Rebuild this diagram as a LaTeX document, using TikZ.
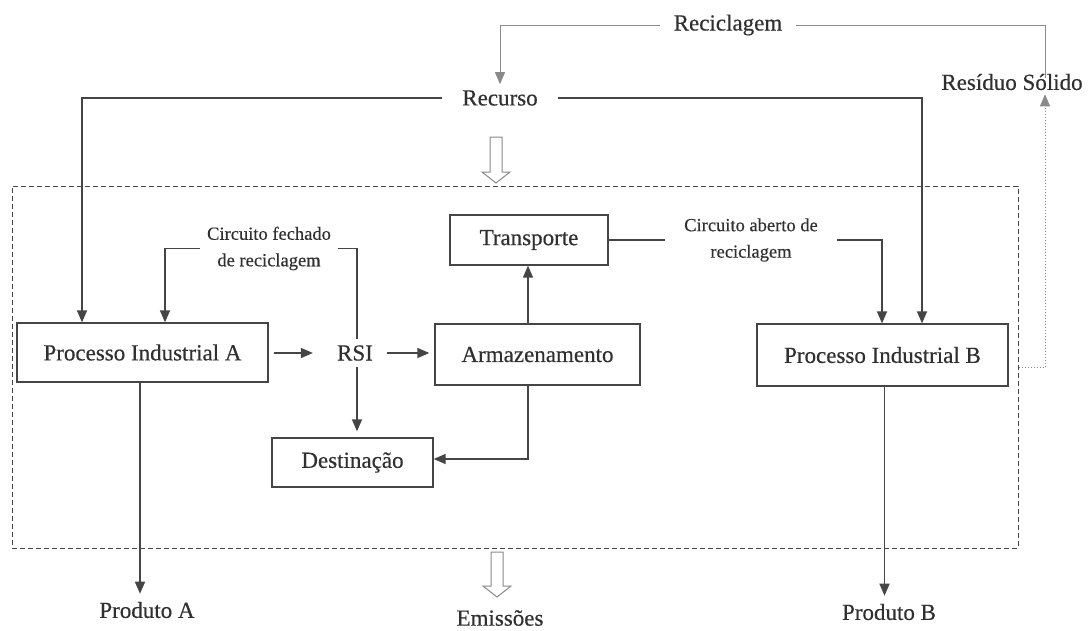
\documentclass[tikz,border=0pt]{standalone}
\usepackage{fontspec}
\setmainfont{Liberation Serif}[FakeBold=0.4]
\usetikzlibrary{arrows.meta,calc}
\definecolor{ln}{HTML}{454545}
\definecolor{tx}{HTML}{303030}
\definecolor{lt}{HTML}{8A8A8A}
\begin{document}
\begin{tikzpicture}[x=1pt,y=-1pt,
  every node/.style={text=tx},
  bigtxt/.style={font=\fontsize{23}{27}\selectfont},
  smalltxt/.style={font=\fontsize{18.5}{26.5}\selectfont, align=center},
  boxnode/.style={draw=ln, line width=1.3pt, bigtxt, inner sep=0pt},
  lbl/.style={bigtxt, inner sep=0pt},
  conn/.style={draw=ln, line width=1.4pt},
  arr/.style={conn, -{Triangle[length=12pt,width=10pt]}},
  thinln/.style={draw=lt, line width=0.9pt},
  dotln/.style={draw=lt, line width=1pt, dotted},
  sysbox/.style={draw=ln, line width=1pt, dash pattern=on 5pt off 3pt, inner sep=0pt},
  hollow/.style={draw=lt, line width=1pt, fill=white}
]
\useasboundingbox[fill=white] (0,0) rectangle (1092,630);

% system boundary
\node[sysbox, minimum width=1006pt, minimum height=362pt] (sys) at (515,367) {};

% boxes
\node[boxnode, minimum width=251pt, minimum height=59pt] (pa) at (142.5,352.5) {Processo Industrial A};
\node[boxnode, minimum width=205pt, minimum height=61pt] (arm) at (537.5,354.5) {Armazenamento};
\node[boxnode, minimum width=158pt, minimum height=50pt] (tr) at (529,240) {Transporte};
\node[boxnode, minimum width=251pt, minimum height=62pt] (pb) at (882.5,355) {Processo Industrial B};
\node[boxnode, minimum width=161pt, minimum height=49pt] (de) at (352.5,462.5) {Destinação};

% labels
\node[lbl, inner xsep=20pt] (rec) at (500,98) {Recurso};
\node[lbl, inner xsep=14pt] (recic) at (728,25) {Reciclagem};
\node[lbl] (res) at (1012,82) {Resíduo Sólido};
\node[lbl, inner xsep=14pt, inner ysep=6pt] (rsi) at (355,353) {RSI};
\node[smalltxt, inner xsep=7pt, inner ysep=0pt] (cf) at (269,248.5) {Circuito fechado\\de reciclagem};
\node[smalltxt, inner xsep=19pt, inner ysep=0pt] (ca) at (751,240) {Circuito aberto de\\reciclagem};
\node[lbl, inner ysep=8pt] (pra) at (147,610) {Produto A};
\node[lbl] (em) at (500,618) {Emissões};
\node[lbl, inner ysep=8pt] (prb) at (889,612) {Produto B};

% resource lines
\draw[arr] (rec.west) -| ([xshift=-60.5pt]pa.north);
\draw[arr] (rec.east) -| ([xshift=39.5pt]pb.north);

% top recycling loop
\draw[thinln, -{Triangle[length=12pt,width=10pt]}, shorten >=6pt] (recic.west) -| (rec.north);
\draw[thinln] (recic.east) -| ([xshift=33pt,yshift=-4pt]res.north);
\draw[dotln, -{Triangle[length=12pt,width=10pt]}, shorten >=4pt] (sys.east) -| ([xshift=33pt]res.south);

% closed loop
\draw[arr] (cf.west) -| ([xshift=22.5pt]pa.north);
\draw[conn] ([xshift=2pt]rsi.north) |- (cf.east);

% open loop
\draw[conn] (tr.east) -- (tr.east -| ca.west);
\draw[arr] (tr.east -| ca.east) -| ([xshift=-0.5pt]pb.north);

% main flow
\draw[arr, shorten <=5pt, shorten >=10pt] (pa.east |- rsi.west) -- (rsi.west);
\draw[arr, shorten >=5pt] (rsi.east) -- (rsi.east -| arm.west);
\draw[arr, shorten >=6pt] ([xshift=2pt]rsi.south) -- ([xshift=2pt]rsi.south |- de.north);
\draw[arr] ([xshift=-9.5pt]arm.north) -- ([xshift=-9.5pt]arm.north |- tr.south);
\draw[arr] ([xshift=-9.5pt]arm.south) |- ([yshift=3.5pt]de.east);

% products
\draw[arr] ([xshift=-2.5pt]pa.south) -- ([xshift=-2.5pt]pa.south |- pra.north);
\draw[arr] ([xshift=2pt]pb.south) -- ([xshift=2pt]pb.south |- prb.north);

% hollow arrows
\coordinate (h1) at (496,137);
\draw[hollow] ($(h1)+(-6,0)$) -- ($(h1)+(6,0)$) -- ($(h1)+(6,35)$) -- ($(h1)+(14,35)$) -- ($(h1)+(0,46)$) -- ($(h1)+(-14,35)$) -- ($(h1)+(-6,35)$) -- cycle;
\coordinate (h2) at (497,552);
\draw[hollow] ($(h2)+(-6,0)$) -- ($(h2)+(6,0)$) -- ($(h2)+(6,34)$) -- ($(h2)+(14,34)$) -- ($(h2)+(0,45)$) -- ($(h2)+(-14,34)$) -- ($(h2)+(-6,34)$) -- cycle;
\end{tikzpicture}
\end{document}
